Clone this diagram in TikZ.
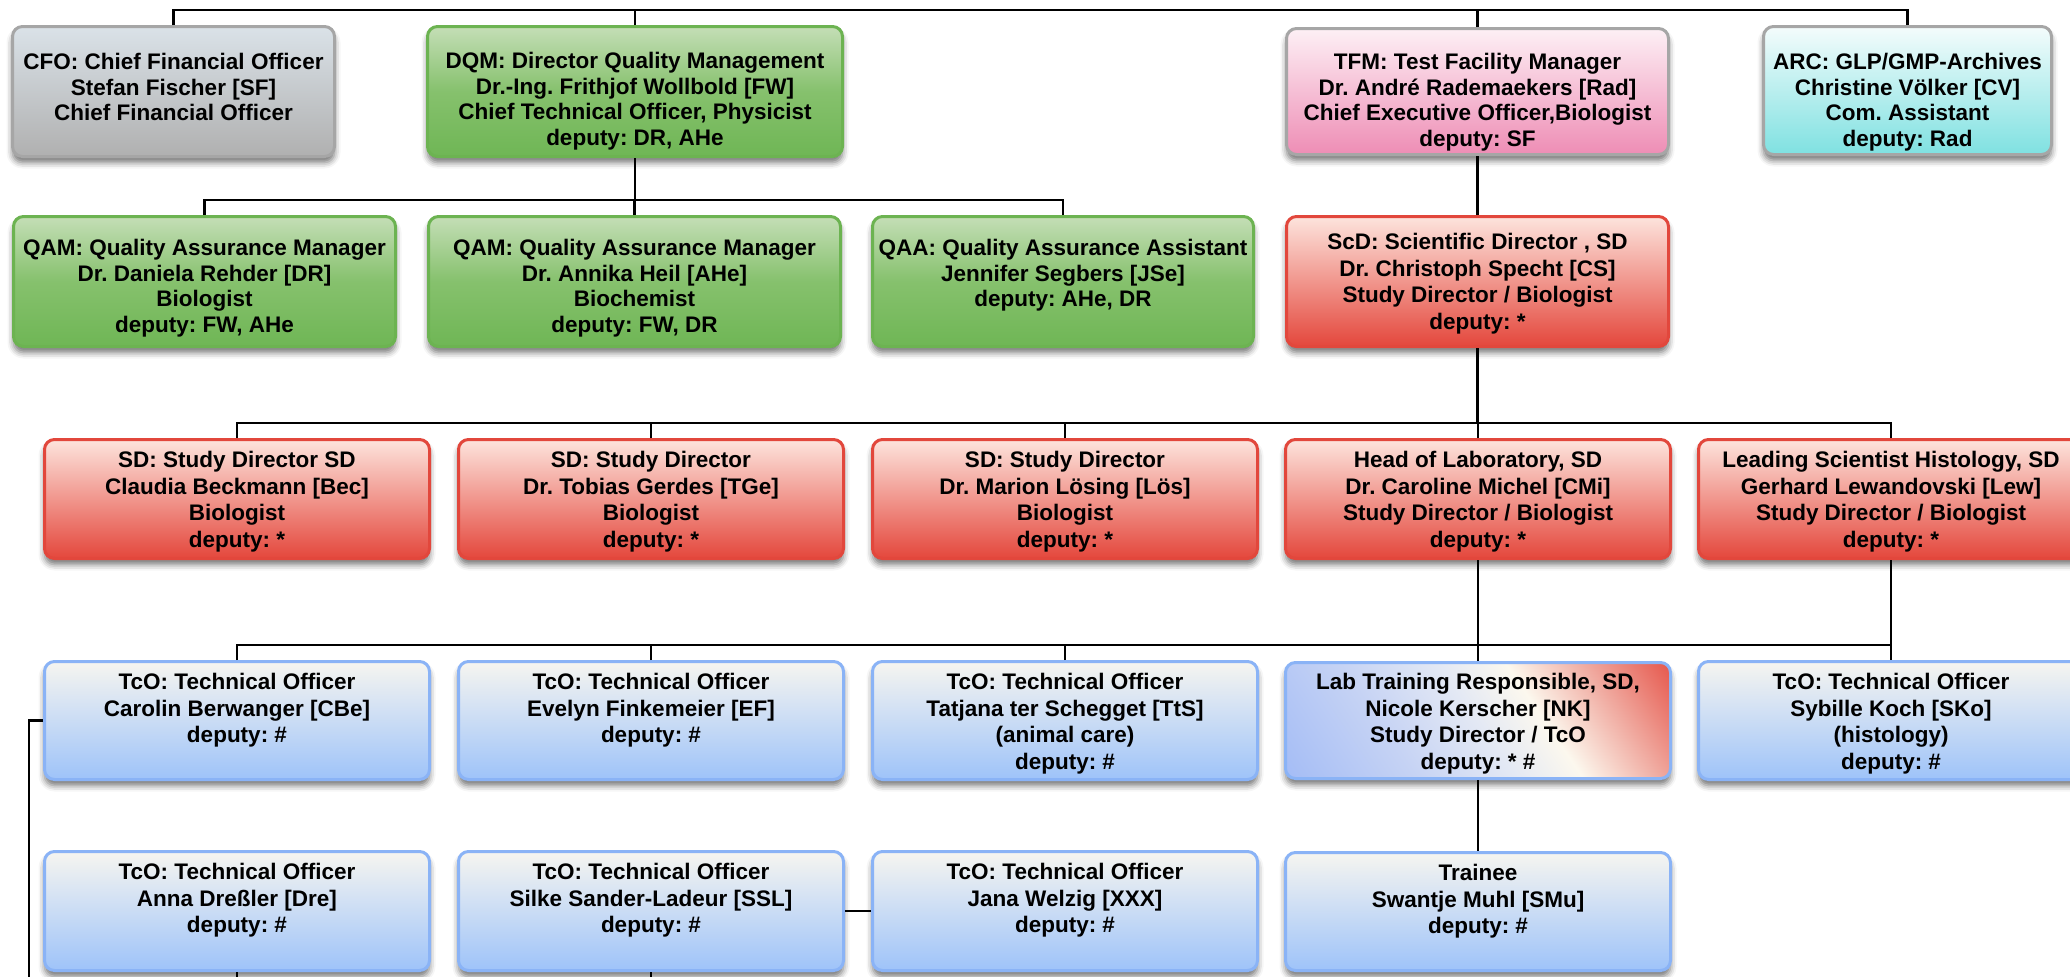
\documentclass[tikz,border=0pt]{standalone}
\usepackage{fontspec}
\setmainfont{Liberation Sans}
\frenchspacing
\usetikzlibrary{shadows.blur}
\definecolor{grayT}{HTML}{DAE2E8}
\definecolor{grayB}{HTML}{B0B0B0}
\definecolor{grayD}{HTML}{A6A6A6}
\definecolor{greenT}{HTML}{C4DEB6}
\definecolor{greenM}{HTML}{86C16D}
\definecolor{greenB}{HTML}{6FB655}
\definecolor{greenD}{HTML}{6CB351}
\definecolor{pinkT}{HTML}{FDF0F5}
\definecolor{pinkB}{HTML}{EE8DB5}
\definecolor{cyanT}{HTML}{F4FCFC}
\definecolor{cyanB}{HTML}{7FE1E1}
\definecolor{redT}{HTML}{FDE4DD}
\definecolor{redB}{HTML}{E4473C}
\definecolor{redD}{HTML}{E2473C}
\definecolor{blueT}{HTML}{F6F5F0}
\definecolor{blueB}{HTML}{9EC3F9}
\definecolor{blueD}{HTML}{8AB3F6}
\definecolor{labA}{HTML}{8AABF7}
\definecolor{labB}{HTML}{C6D3F4}
\definecolor{labC}{HTML}{E4E9F4}
\definecolor{labD}{HTML}{FCF8EE}
\definecolor{labE}{HTML}{F0A99F}
\definecolor{labF}{HTML}{E4483D}
\pgfdeclarehorizontalshading{labsh}{100bp}{color(0bp)=(labA); color(35bp)=(labB); color(50bp)=(labC); color(60bp)=(labD); color(72bp)=(labE); color(87bp)=(labF); color(100bp)=(labF)}
\tikzset{
  orgbase/.style={draw, line width=3pt, rounded corners=10pt, inner sep=0pt,
    anchor=north west,
    blur shadow={shadow xshift=0pt, shadow yshift=-6pt, shadow blur radius=6pt, shadow opacity=55},
    font=\fontsize{22.5}{26.7}\selectfont\bfseries},
  tight/.style={font=\fontsize{22.5}{25.5}\selectfont\bfseries},
  graybox/.style={orgbase, draw=grayD, top color=grayT, bottom color=grayB},
  greenbox/.style={orgbase, draw=greenD, top color=greenT, bottom color=greenB, middle color=greenM},
  pinkbox/.style={orgbase, draw=grayD, top color=pinkT, bottom color=pinkB},
  cyanbox/.style={orgbase, draw=grayD, top color=cyanT, bottom color=cyanB},
  redbox/.style={orgbase, draw=redD, top color=redT, bottom color=redB},
  bluebox/.style={orgbase, draw=blueD, top color=blueT, bottom color=blueB},
  labbox/.style={orgbase, draw=blueD, shading=labsh, shading angle=34},
  wire/.style={line width=2.2pt, black},
}
\newcommand\orgbox[8]{\node[#1] (#2) at (#3,#4) {\parbox[c][#6pt][t]{#5pt}{\centering\rule{0pt}{#7pt}#8}};}
\begin{document}
\begin{tikzpicture}[x=1pt,y=-1pt]
\useasboundingbox (0,0) rectangle (2070,977);
% row 1
\orgbox{graybox,tight}{cfo}{11}{25}{322}{130}{43}{CFO: Chief Financial Officer\\Stefan Fischer [SF]\\Chief Financial Officer}
\orgbox{greenbox,tight}{dqm}{426}{25}{415}{130}{42}{DQM: Director Quality Management\\Dr.-Ing. Frithjof Wollbold [FW]\\Chief Technical Officer, Physicist\\deputy: DR, AHe}
\orgbox{pinkbox,tight}{tfm}{1285}{27}{382}{126}{41}{TFM: Test Facility Manager\\Dr. Andr\'e Rademaekers [Rad]\\Chief Executive Officer,Biologist\\deputy: SF}
\orgbox{cyanbox,tight}{arc}{1762}{25}{288}{128}{43}{ARC: GLP/GMP-Archives\\Christine V\"olker [CV]\\Com. Assistant\\deputy: Rad}
% row 2
\orgbox{greenbox,tight}{qam1}{12}{215}{382}{130}{39}{QAM: Quality Assurance Manager\\Dr. Daniela Rehder [DR]\\Biologist\\deputy: FW, AHe}
\orgbox{greenbox,tight}{qam2}{427}{215}{412}{130}{39}{QAM: Quality Assurance Manager\\Dr. Annika Heil [AHe]\\Biochemist\\deputy: FW, DR}
\orgbox{greenbox,tight}{qaa}{871}{215}{381}{130}{39}{QAA: Quality Assurance Assistant\\Jennifer Segbers [JSe]\\deputy: AHe, DR}
\orgbox{redbox}{scd}{1285}{215}{382}{130}{33}{ScD: Scientific Director , SD\\Dr. Christoph Specht [CS]\\Study Director / Biologist\\deputy: *}
% row 3
\orgbox{redbox}{sd1}{43}{438}{385}{119}{28}{SD: Study Director SD\\Claudia Beckmann [Bec]\\Biologist\\deputy: *}
\orgbox{redbox}{sd2}{457}{438}{385}{119}{28}{SD: Study Director\\Dr. Tobias Gerdes [TGe]\\Biologist\\deputy: *}
\orgbox{redbox}{sd3}{871}{438}{385}{119}{28}{SD: Study Director\\Dr. Marion L\"osing [L\"os]\\Biologist\\deputy: *}
\orgbox{redbox}{hol}{1284}{438}{385}{119}{28}{Head of Laboratory, SD\\Dr. Caroline Michel [CMi]\\Study Director / Biologist\\deputy: *}
\orgbox{redbox}{ls}{1697}{438}{385}{119}{28}{Leading Scientist Histology, SD\\Gerhard Lewandovski [Lew]\\Study Director / Biologist\\deputy: *}
% row 4
\orgbox{bluebox}{tco1}{43}{660}{385}{118}{28}{TcO: Technical Officer\\Carolin Berwanger [CBe]\\deputy: \#}
\orgbox{bluebox}{tco2}{457}{660}{385}{118}{28}{TcO: Technical Officer\\Evelyn Finkemeier [EF]\\deputy: \#}
\orgbox{bluebox}{tco3}{871}{660}{385}{118}{28}{TcO: Technical Officer\\Tatjana ter Schegget [TtS]\\(animal care)\\deputy: \#}
\orgbox{labbox}{lab}{1284}{661}{385}{116}{27}{Lab Training Responsible, SD,\\Nicole Kerscher [NK]\\Study Director / TcO\\deputy: * \#}
\orgbox{bluebox}{syb}{1697}{660}{385}{118}{28}{TcO: Technical Officer\\Sybille Koch [SKo]\\(histology)\\deputy: \#}
% row 5
\orgbox{bluebox}{anna}{43}{850}{385}{119}{28}{TcO: Technical Officer\\Anna Dre\ss ler [Dre]\\deputy: \#}
\orgbox{bluebox}{silke}{457}{850}{385}{119}{28}{TcO: Technical Officer\\Silke Sander-Ladeur [SSL]\\deputy: \#}
\orgbox{bluebox}{jana}{871}{850}{385}{119}{28}{TcO: Technical Officer\\Jana Welzig [XXX]\\deputy: \#}
\orgbox{bluebox}{trn}{1284}{851}{385}{118}{28}{Trainee\\Swantje Muhl [SMu]\\deputy: \#}
% connectors
\coordinate (busA) at (0,10);
\coordinate (busB) at (0,200);
\coordinate (busC) at (0,423);
\coordinate (busD) at (0,645);
\coordinate (offL) at (29,990);
\draw[wire] (cfo.north) |- (busA -| arc.north) -- (arc.north);
\draw[wire] (dqm.north) -- (dqm.north |- busA);
\draw[wire] (tfm.north) -- (tfm.north |- busA);
\draw[wire] (dqm.south) -- (dqm.south |- busB);
\draw[wire] (qam1.north) |- (busB -| qaa.north) -- (qaa.north);
\draw[wire] (qam2.north) -- (qam2.north |- busB);
\draw[wire] (tfm.south) -- (scd.north);
\draw[wire] (scd.south) -- (scd.south |- busC);
\draw[wire] (sd1.north) |- (busC -| ls.north) -- (ls.north);
\foreach \n in {sd2,sd3,hol} \draw[wire] (\n.north) -- (\n.north |- busC);
\draw[wire] (hol.south) -- (hol.south |- busD);
\draw[wire] (ls.south) -- (syb.north);
\draw[wire] (tco1.north) |- (busD -| syb.north);
\foreach \n in {tco2,tco3,lab} \draw[wire] (\n.north) -- (\n.north |- busD);
\draw[wire] (lab.south) -- (trn.north);
\draw[wire] (silke.east) -- (jana.west);
\draw[wire] (tco1.west) -| (offL);
\draw[wire] (anna.south) -- (anna.south |- offL);
\draw[wire] (silke.south) -- (silke.south |- offL);
\end{tikzpicture}
\end{document}
